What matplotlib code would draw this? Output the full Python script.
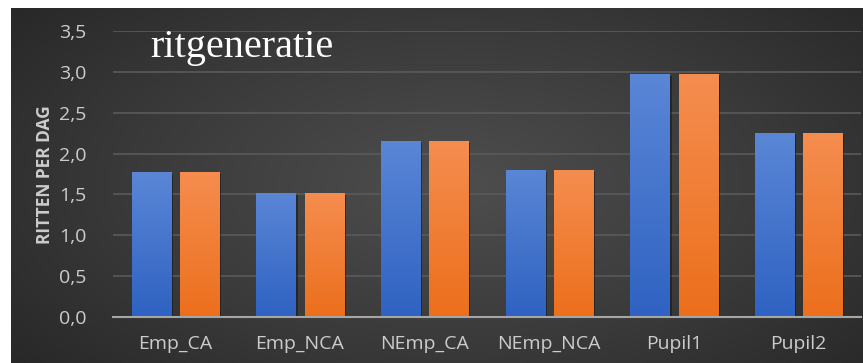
import numpy as np
import matplotlib
matplotlib.use("Agg")
import matplotlib.pyplot as plt
from matplotlib.colors import LinearSegmentedColormap
import matplotlib.patheffects as pe

categories = ["Emp_CA", "Emp_NCA", "NEmp_CA", "NEmp_NCA", "Pupil1", "Pupil2"]
series_a = [1.77, 1.52, 2.15, 1.80, 2.97, 2.25]
series_b = [1.77, 1.52, 2.15, 1.80, 2.97, 2.25]
yticks = [0.0, 0.5, 1.0, 1.5, 2.0, 2.5, 3.0, 3.5]
ytick_labels = ["0,0", "0,5", "1,0", "1,5", "2,0", "2,5", "3,0", "3,5"]
title = "ritgeneratie"
ylabel = "RITTEN PER DAG"

W, H = 863, 363
fig = plt.figure(figsize=(W / 100, H / 100), dpi=100, facecolor="white")

# background panel with radial gradient
bg = fig.add_axes([11 / W, 0, (W - 11) / W, (H - 8) / H])
bg.set_axis_off()
yy, xx = np.mgrid[0:1:200j, 0:1:400j]
r = np.sqrt(((xx - 0.52) / 0.75) ** 2 + ((yy - 0.5) / 0.9) ** 2)
r = np.clip(r, 0, 1)
cmap_bg = LinearSegmentedColormap.from_list("bg", ["#4e4e4e", "#3a3a3a", "#232323"])
bg.imshow(r, cmap=cmap_bg, aspect="auto", extent=[0, 1, 0, 1], vmin=0, vmax=1)
bg.set_xlim(0, 1)
bg.set_ylim(0, 1)

# main axes: x 113..861, y0 at 317, y3.5 at 31
x0, x1 = 113, 861
ytop_px, ybot_px = 31, 317
ax = fig.add_axes([x0 / W, (H - ybot_px) / H, (x1 - x0) / W, (ybot_px - ytop_px) / H])
ax.set_facecolor("none")
ax.set_xlim(-0.5, len(categories) - 0.5)
ax.set_ylim(0, 3.5)

x = np.arange(len(categories))
bw = 0.313
off = 0.193
bars_a = ax.bar(x - off, series_a, width=bw, color="#4472C4", zorder=3)
bars_b = ax.bar(x + off, series_b, width=bw, color="#ED7D31", zorder=3)

cm_a = LinearSegmentedColormap.from_list("a", ["#2f62c2", "#5a86d6"])
cm_b = LinearSegmentedColormap.from_list("b", ["#ec6f1c", "#f58d4f"])
grad = np.linspace(0, 1, 100).reshape(-1, 1)
for bars, cm in ((bars_a, cm_a), (bars_b, cm_b)):
    for p in bars:
        p.set_path_effects([pe.SimplePatchShadow(offset=(1.5, -1.5), shadow_rgbFace="#111111", alpha=0.5), pe.Normal()])
        xb, yb = p.get_x(), p.get_y()
        im = ax.imshow(grad, cmap=cm, origin="lower", aspect="auto",
                       extent=[xb, xb + p.get_width(), yb, yb + p.get_height()], zorder=4)
        im.set_clip_path(p)
ax.set_xlim(-0.5, len(categories) - 0.5)
ax.set_ylim(0, 3.5)

ax.set_yticks(yticks)
ax.set_yticklabels(ytick_labels)
ax.set_xticks(x)
ax.set_xticklabels(categories)
for s in ["top", "right", "left"]:
    ax.spines[s].set_visible(False)
ax.spines["bottom"].set_color("#a6a6a6")
ax.spines["bottom"].set_linewidth(1.5)
ax.spines["bottom"].set_zorder(5)
ax.tick_params(axis="both", length=0, colors="#cccccc", labelsize=14)
ax.tick_params(axis="y", pad=19)
ax.tick_params(axis="x", pad=13)
for lab in ax.get_xticklabels() + ax.get_yticklabels():
    lab.set_fontfamily("Open Sans")
ax.grid(axis="y", color="#5a5a5a", linewidth=1.2, zorder=0)
ax.set_axisbelow(True)

fig.text(45 / W, 1 - 175 / H, ylabel, rotation=90, ha="center", va="center",
         color="#cccccc", fontsize=12.5, fontweight="bold", family="Open Sans")
fig.text(150 / W, 1 - 48 / H, title, ha="left", va="center", color="white",
         fontsize=29, family="Liberation Serif")

fig.savefig("out.png", dpi=100, facecolor="white")
